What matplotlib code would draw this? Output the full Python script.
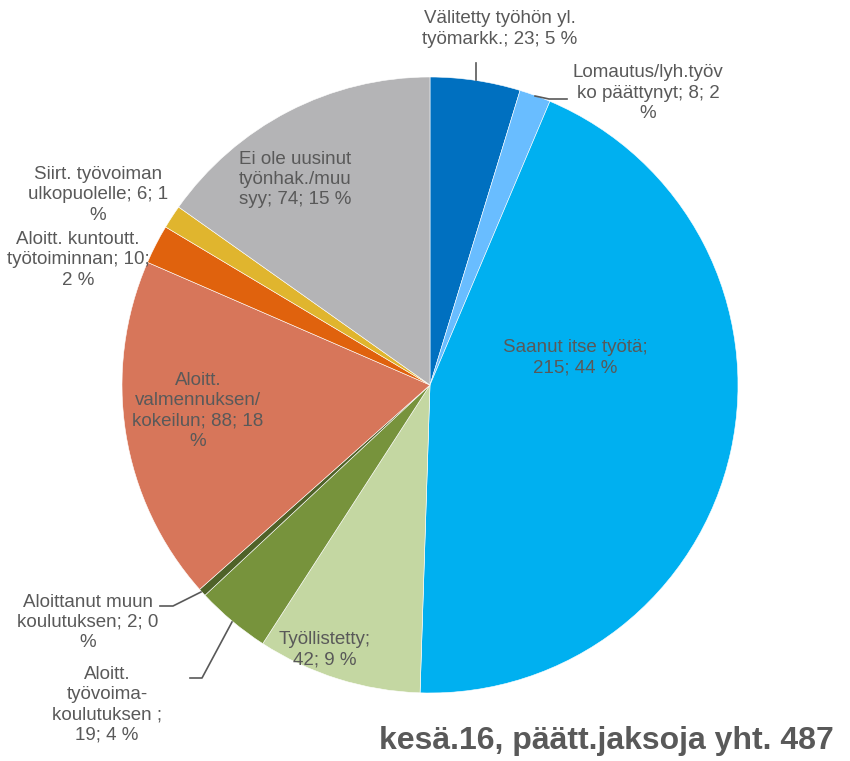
import matplotlib.pyplot as plt

labels = [
    "Välitetty työhön yl.\ntyömarkk.; 23; 5 %",
    "Lomautus/lyh.työv\nko päättynyt; 8; 2\n%",
    "Saanut itse työtä;\n215; 44 %",
    "Työllistetty;\n42; 9 %",
    "Aloitt.\ntyövoima-\nkoulutuksen ;\n19; 4 %",
    "Aloittanut muun\nkoulutuksen; 2; 0\n%",
    "Aloitt.\nvalmennuksen/\nkokeilun; 88; 18\n%",
    "Aloitt. kuntoutt.\ntyötoiminnan; 10;\n2 %",
    "Siirt. työvoiman\nulkopuolelle; 6; 1\n%",
    "Ei ole uusinut\ntyönhak./muu\nsyy; 74; 15 %",
]
values = [23, 8, 215, 42, 19, 2, 88, 10, 6, 74]
colors = ["#0070C0", "#69BDFF", "#00B0F0", "#C4D7A2", "#77933C",
          "#4F6228", "#D7765A", "#E0620D", "#E0B52E", "#B4B4B6"]
title = "kesä.16, päätt.jaksoja yht. 487"

# label positions (data coords, pie radius = 1)
label_pos = [(0.227, 1.156), (0.708, 0.948), (0.471, 0.088), (-0.341, -0.860),
             (-1.049, -1.039), (-1.11, -0.77), (-0.753, -0.084), (-1.143, 0.406),
             (-1.078, 0.617), (-0.438, 0.666)]

plt.rcParams['font.family'] = ['Liberation Sans', 'DejaVu Sans']
txt_color = "#595959"

fig = plt.figure(figsize=(8.5, 7.61), dpi=100)
ax = fig.add_axes([122 / 850, 68 / 761, 616 / 850, 616 / 761])
ax.pie(values, colors=colors, startangle=90, counterclock=False, radius=1,
       wedgeprops=dict(edgecolor="white", linewidth=0.4))
ax.set_xlim(-1, 1)
ax.set_ylim(-1, 1)
ax.set_aspect("equal")
ax.axis("off")

for lab, (x, y) in zip(labels, label_pos):
    ax.text(x, y, lab, ha="center", va="center", fontsize=13.5, color=txt_color,
            linespacing=1.24, clip_on=False)


def px(xp, yp):
    return (xp - 430) / 308, (385 - yp) / 308


leaders = [
    [(476, 63), (476, 80)],
    [(535, 96), (549, 99), (567, 99)],
    [(201, 592), (173, 606), (160, 606)],
    [(232, 622), (202, 678), (190, 678)],
]
for pts in leaders:
    xs, ys = zip(*[px(a, b) for a, b in pts])
    ax.plot(xs, ys, color=txt_color, lw=1.2, clip_on=False)

fig.text(606 / 850, 1 - 741 / 761, title, ha="center", va="center",
         fontsize=23, fontweight="bold", color=txt_color)

fig.savefig("out.png", dpi=100)
